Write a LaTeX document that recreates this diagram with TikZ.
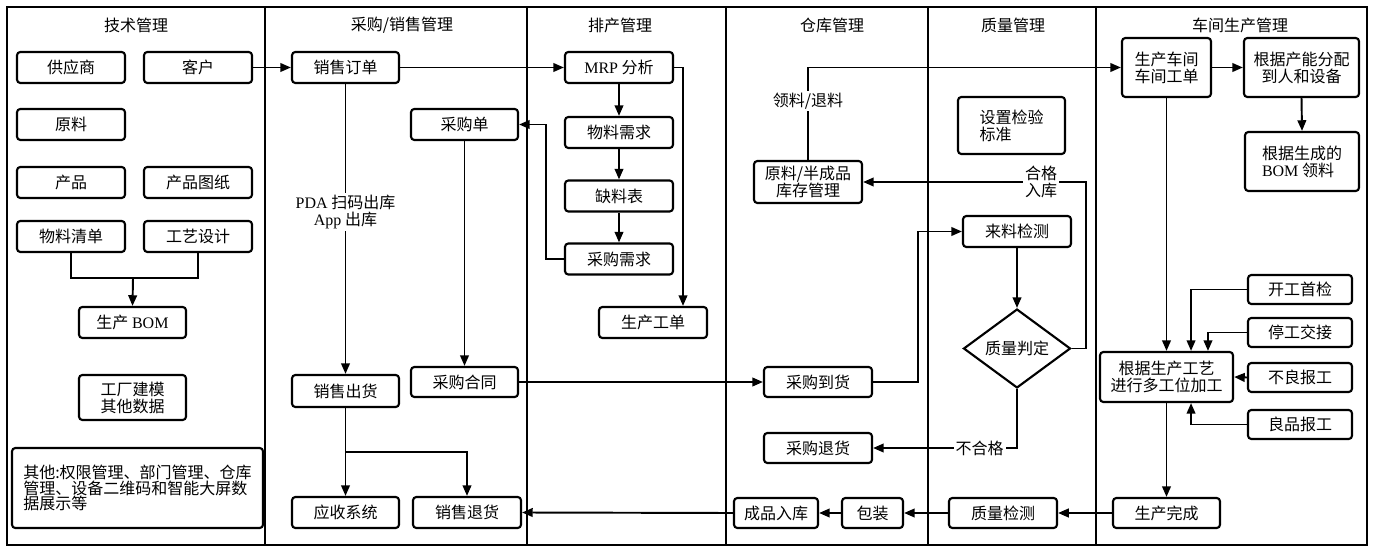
\documentclass[tikz,border=0pt]{standalone}
\usepackage{fontspec}
\setmainfont{Noto Sans CJK SC}
\newfontfamily\lat{Liberation Serif}
\usetikzlibrary{arrows.meta,shapes.geometric,calc}
\begin{document}
\begin{tikzpicture}[x=0.75pt,y=-0.75pt,
  every node/.style={font=\fontsize{12}{12.75}\selectfont},
  ln/.style={line width=1.45pt},
  box/.style={draw, line width=1.6pt, rounded corners=2.5pt, inner sep=0pt, align=center},
  bx/.style 2 args={box, minimum width=#1*0.75pt, minimum height=#2*0.75pt},
  arr/.style={ln, -{Triangle[length=8pt,width=6.5pt]}},
  lbl/.style={fill=white, inner sep=1.5pt, align=center},
]
\useasboundingbox (0,0) rectangle (1373,548);
% frame and lanes
\draw[ln] (7,7) rectangle (1367,545);
\foreach \x in {265,527,726,928,1096} \draw[ln] (\x,7) -- (\x,545);
% lane titles
\node (t1) at (136,25) {技术管理};
\node (t2) at (402,25) {采购/销售管理};
\node (t3) at (620,25) {排产管理};
\node (t4) at (832,25) {仓库管理};
\node (t5) at (1013,25) {质量管理};
\node (t6) at (1240,25) {车间生产管理};
% technical management
\node[bx={108}{31}] (gys) at (71,67.5) {供应商};
\node[bx={108}{31}] (kh) at (198,67.5) {客户};
\node[bx={108}{31}] (yl) at (71,124.5) {原料};
\node[bx={108}{31}] (cp) at (71,182.5) {产品};
\node[bx={108}{31}] (cptz) at (198,182.5) {产品图纸};
\node[bx={108}{31}] (wlqd) at (71,236.5) {物料清单};
\node[bx={108}{31}] (gysj) at (198,236.5) {工艺设计};
\node[bx={107}{31}] (bom) at (132.5,322.5) {生产 {\lat BOM}};
\node[bx={107}{45}] (gc) at (132.5,397.5) {工厂建模\\其他数据};
\node[bx={251}{80}, align=left, font=\fontsize{12}{11.5}\selectfont] (qt) at (137.5,488)
  {其他:权限管理、部门管理、仓库\\管理、设备二维码和智能大屏数\\据展示等};
% purchase / sales
\node[bx={107}{31}] (xsdd) at (345.5,67.5) {销售订单};
\node[bx={107}{31}] (cgd) at (464.5,124.5) {采购单};
\node[bx={107}{32}] (xsch) at (345.5,391) {销售出货};
\node[bx={107}{30}] (cght) at (464.5,382) {采购合同};
\node[bx={107}{31}] (ysxt) at (345.5,512.5) {应收系统};
\node[bx={108}{31}] (xsth) at (467,512.5) {销售退货};
% scheduling
\node[bx={108}{31}] (mrp) at (619,67.5) {{\lat MRP} 分析};
\node[bx={108}{31}] (wlxq) at (619,132.5) {物料需求};
\node[bx={108}{31}] (qlb) at (619,196) {缺料表};
\node[bx={108}{31}] (cgxq) at (619,259) {采购需求};
\node[bx={108}{31}] (scgd) at (653,322.5) {生产工单};
% warehouse
\node[bx={108}{42}] (ylkc) at (808,182) {原料/半成品\\库存管理};
\node[bx={108}{30}] (cgdh) at (818,382) {采购到货};
\node[bx={108}{30}] (cgth) at (818,448) {采购退货};
\node[bx={84}{30}] (cprk) at (776,513) {成品入库};
\node[bx={61}{30}] (bz) at (872.5,513) {包装};
% quality
\node[bx={107}{57}, align=left] (szjy) at (1011.5,125.5) {设置检验\\标准};
\node[bx={108}{31}] (lljc) at (1017,231.5) {来料检测};
\node[draw, line width=1.6pt, diamond, inner sep=0pt, minimum width=107*0.75pt, minimum height=77*0.75pt] (zlpd) at (1017,348.5) {质量判定};
\node[bx={108}{30}] (zljc) at (1003,513) {质量检测};
% workshop
\node[bx={89}{59}] (scgj) at (1166.5,67.5) {生产车间\\车间工单};
\node[bx={115}{59}] (cnfp) at (1301.5,67.5) {根据产能分配\\到人和设备};
\node[bx={114}{59}, align=left] (bomll) at (1302,161.5) {根据生成的\\{\lat BOM} 领料};
\node[bx={133}{50}] (scgy) at (1166.5,377) {根据生产工艺\\进行多工位加工};
\node[bx={104}{29}] (kgsj) at (1300,289.5) {开工首检};
\node[bx={104}{29}] (tgjj) at (1300,332.5) {停工交接};
\node[bx={104}{29}] (blbg) at (1300,377.5) {不良报工};
\node[bx={104}{29}] (lpbg) at (1300,424.5) {良品报工};
\node[bx={107}{30}] (scwc) at (1166.5,513) {生产完成};
% connectors: technical
\draw[arr] (kh.east) -- (xsdd.west);
\coordinate (jn) at (133,278);
\draw[ln] (wlqd.south) |- (jn) -| (gysj.south);
\draw[arr] (jn) -- (bom.north);
% purchase / sales
\draw[arr] (xsdd.east) -- (mrp.west);
\draw[arr] (xsdd.south) -- node[lbl, pos=0.44] {{\lat PDA} 扫码出库\\{\lat App} 出库} (xsch.north);
\draw[arr] (cgd.south) -- (cght.north);
\coordinate (br) at (345.5,452);
\draw[arr] (xsch.south) -- (ysxt.north);
\draw[arr] (br) -| (xsth.north);
\draw[arr] (cght.east) -- (cgdh.west);
% scheduling
\draw[arr] (mrp.south) -- (wlxq.north);
\draw[arr] (wlxq.south) -- (qlb.north);
\draw[arr] (qlb.south) -- (cgxq.north);
\draw[arr] (cgxq.west) -- ++(-18,0) |- (cgd.east);
\draw[arr] (mrp.east) -| ([xshift=22.5pt]scgd.north);
% warehouse / quality
\draw[arr] (cgdh.east) -- ++(45,0) |- (lljc.west);
\draw[arr] (lljc.south) -- (zlpd.north);
\draw[arr] (zlpd.east) -- ++(14,0) |- node[lbl, pos=0.6] {合格\\入库} (ylkc.east);
\draw[arr] (zlpd.south) |- node[lbl, pos=0.63] {不合格} (cgth.east);
\draw[arr] (ylkc.north) |- node[lbl, pos=0.32] {领料/退料} (scgj.west);
% workshop
\draw[arr] (scgj.east) -- (cnfp.west);
\draw[arr] (cnfp.south) -- (bomll.north);
\draw[arr] (scgj.south) -- (scgy.north);
\draw[arr] (kgsj.west) -| ([xshift=18.4pt]scgy.north);
\draw[arr] (tgjj.west) -| ([xshift=31.1pt]scgy.north);
\draw[arr] (blbg.west) -- (scgy.east);
\draw[arr] (lpbg.west) -| ([xshift=18.4pt]scgy.south);
\draw[arr] (scgy.south) -- (scwc.north);
% bottom flow
\draw[arr] (scwc.west) -- (zljc.east);
\draw[arr] (zljc.west) -- (bz.east);
\draw[arr] (bz.west) -- (cprk.east);
\draw[arr] (cprk.west) -- (xsth.east);
\end{tikzpicture}
\end{document}
